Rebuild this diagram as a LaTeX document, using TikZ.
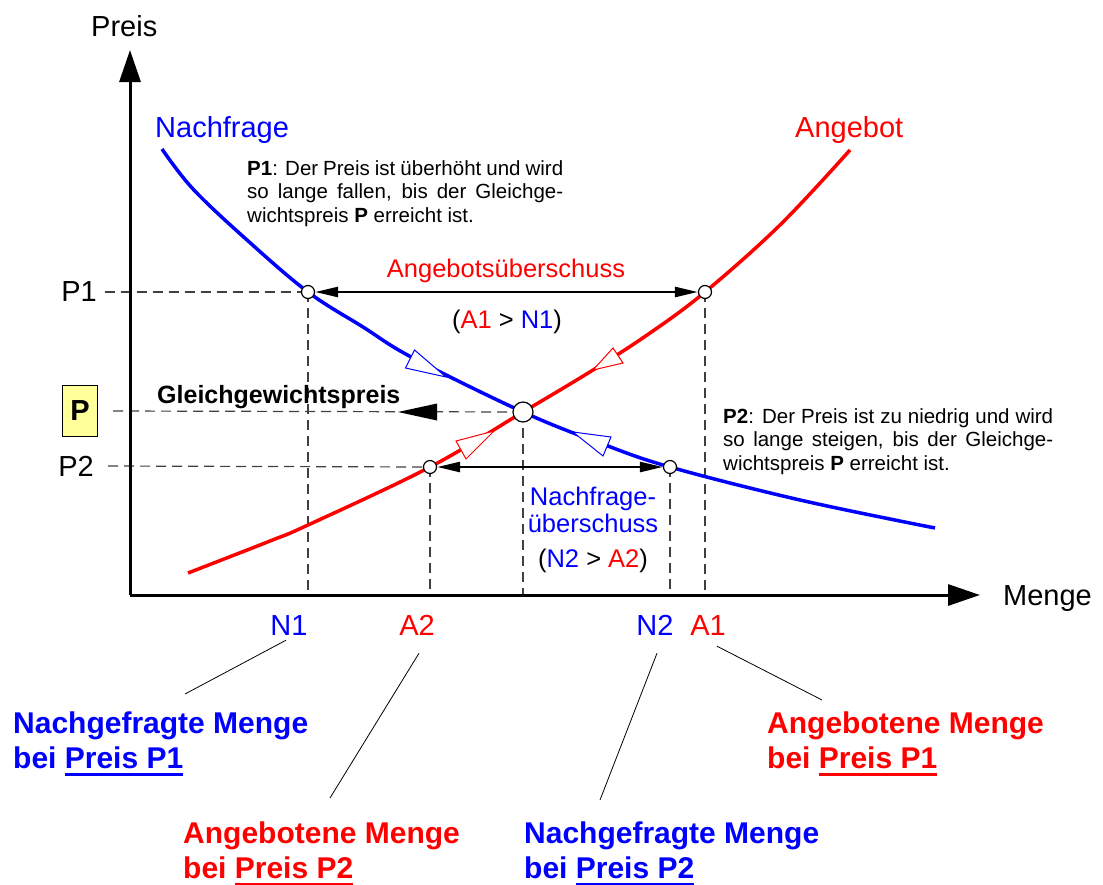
\documentclass[tikz,border=0pt]{standalone}
\usepackage{fontspec}
\setmainfont{Liberation Sans}
\usetikzlibrary{arrows.meta,calc}
\definecolor{cblue}{RGB}{0,0,255}
\definecolor{cred}{RGB}{255,0,0}
\definecolor{pyellow}{RGB}{255,255,153}
\newsavebox\myulbox
\newcommand{\myul}[1]{\sbox\myulbox{#1}\rlap{\rule[-8pt]{\wd\myulbox}{3.5pt}}\usebox\myulbox}
\begin{document}
\begin{tikzpicture}[x=1pt,y=-1pt,
 big/.style={font=\fontsize{29}{34}\selectfont, inner sep=0pt},
 mid/.style={font=\fontsize{25.5}{27}\selectfont, inner sep=0pt},
 small/.style={font=\fontsize{20.5}{23.5}\selectfont, inner sep=0pt, align=left},
 bottomlbl/.style={font=\bfseries\fontsize{30}{35}\selectfont, inner sep=0pt, align=left},
 dashline/.style={black!75, line width=1.2pt, dash pattern=on 10pt off 6pt},
 axisline/.style={line width=3pt, -{Triangle[length=32pt,width=21pt]}},
 curve/.style={line width=3.5pt},
 dot/.style={circle, draw=black, fill=white, line width=1.2pt, minimum size=13pt, inner sep=0pt},
 bigdot/.style={dot, minimum size=20pt},
 dbl/.style={line width=2.5pt, {Triangle[length=23pt,width=10pt]}-{Triangle[length=23pt,width=10pt]}},
 leader/.style={line width=0.8pt},
 tri/.style={line width=1pt, fill=white},
]
\useasboundingbox (0,0) rectangle (1103,884);

% axis coordinates
\coordinate (O) at (130,595);
\coordinate (ytop) at (130,50);
\coordinate (xend) at (980,595);
\coordinate (xN1) at (308,595);
\coordinate (xA2) at (430,595);
\coordinate (xP) at (523,595);
\coordinate (xN2) at (670,595);
\coordinate (xA1) at (705,595);

% labels left
\node[big, anchor=east] (P1lab) at (97,292) {P1};
\node[big, anchor=east] (P2lab) at (94,466) {P2};
\node[draw=black, fill=pyellow, line width=1pt, minimum width=35pt, minimum height=51pt, inner sep=0pt, font=\bfseries\fontsize{29}{32}\selectfont] (Pbox) at (80,411) {P};

% dots (positions)
\coordinate (cN1) at (308,292);
\coordinate (cA1) at (705,292);
\coordinate (cEq) at (523,412);
\coordinate (cA2) at (430,467);
\coordinate (cN2) at (670,467);

% dashed lines
\draw[dashline] ([xshift=8pt]P1lab.east) -- (cN1);
\draw[dashline] ([xshift=15pt]Pbox.east) -- (cEq);
\draw[dashline] ([xshift=14pt]P2lab.east) -- (cA2);
\draw[dashline] (cN1) -- (xN1);
\draw[dashline] (cA1) -- (xA1);
\draw[dashline] (cEq) -- (xP);
\draw[dashline] (cA2) -- (xA2);
\draw[dashline] (cN2) -- (xN2);

% equilibrium price arrow
\fill (437,403.5) -- (398,412) -- (437,420.5) -- cycle;

% axes
\draw[axisline] (O) -- (ytop);
\draw[axisline] (O) -- (xend);

% curves
\draw[cblue,curve] plot[smooth, tension=0.6] coordinates {(162,149) (193,189) (247,240) (308,292) (363,327) (413,358) (523,412) (600,443) (670,467) (800,500) (935,528)};
\draw[cred,curve] plot[smooth, tension=0.6] coordinates {(188,573) (270,541) (308,525) (430,467) (523,412) (593,370) (650,333) (705,292) (780,225) (850,150)};

% direction triangles
\draw[cblue,tri] (446,377) -- (405.5,368) -- (414.5,350) -- cycle;
\draw[cblue,tri] (573,432) -- (603,456) -- (611,437) -- cycle;
\draw[cred,tri] (494,431) -- (466,459) -- (456,441) -- cycle;
\draw[cred,tri] (593,370) -- (613,348) -- (623,363) -- cycle;

% dots
\node[dot] (dN1) at (cN1) {};
\node[dot] (dA1) at (cA1) {};
\node[bigdot] (dEq) at (cEq) {};
\node[dot] (dA2) at (cA2) {};
\node[dot] (dN2) at (cN2) {};

% double arrows
\draw[dbl] (dN1) -- (dA1);
\draw[dbl] (dA2) -- (dN2);

% axis labels
\node[big, anchor=base west] (preis) at (91,36) {Preis};
\node[big, anchor=base west] (menge) at (1003,605) {Menge};
\node[big, anchor=base west, text=cblue] (nachfrage) at (155,137) {Nachfrage};
\node[big, anchor=base west, text=cred] (angebot) at (795,137) {Angebot};

% explanations
\node[small, anchor=north west] (expl1) at (247,160) {\rule{0pt}{15pt}\makebox[316pt][s]{\textbf{P1}: Der Preis ist überhöht und wird}\\ \makebox[316pt][s]{so lange fallen, bis der Gleichge-}\\ wichtspreis \textbf{P} erreicht ist.};
\node[small, anchor=north west] (expl2) at (723,408) {\rule{0pt}{15pt}\makebox[330pt][s]{\textbf{P2}: Der Preis ist zu niedrig und wird}\\ \makebox[330pt][s]{so lange steigen, bis der Gleichge-}\\ wichtspreis \textbf{P} erreicht ist.};

\node[mid, anchor=base, text=cred] (aus) at (506,277) {Angebotsüberschuss};
\node[mid, anchor=base] (aus2) at (507,328) {(\textcolor{cred}{A1} > \textcolor{cblue}{N1})};
\node[mid, anchor=base west, font=\bfseries\fontsize{25}{27}\selectfont] (ggp) at (157,403) {Gleichgewichtspreis};
\node[mid, anchor=north, align=center] (nus) at (593,487) {\rule{0pt}{18pt}\textcolor{cblue}{Nachfrage-}\\ \textcolor{cblue}{überschuss}\\[8pt] (\textcolor{cblue}{N2} > \textcolor{cred}{A2})};

% quantity labels
\node[big, anchor=base, text=cblue] (N1lab) at (289,635) {N1};
\node[big, anchor=base, text=cred] (A2lab) at (417,635) {A2};
\node[big, anchor=base, text=cblue] (N2lab) at (655,635) {N2};
\node[big, anchor=base, text=cred] (A1lab) at (708,635) {A1};

% bottom texts
\node[bottomlbl, anchor=north west, text=cblue] (tN1) at (13,711) {\rule{0pt}{22pt}Nachgefragte Menge\\ bei \myul{Preis P1}};
\node[bottomlbl, anchor=north west, text=cred] (tA1) at (767,711) {\rule{0pt}{22pt}Angebotene Menge\\ bei \myul{Preis P1}};
\node[bottomlbl, anchor=north west, text=cred] (tA2) at (183,821) {\rule{0pt}{22pt}Angebotene Menge\\ bei \myul{Preis P2}};
\node[bottomlbl, anchor=north west, text=cblue] (tN2) at (524,821) {\rule{0pt}{22pt}Nachgefragte Menge\\ bei \myul{Preis P2}};

% leader lines
\draw[leader] ($(N1lab.south)+(-3,5)$) -- ($(tN1.north west)+(172,-17)$);
\draw[leader] ($(A2lab.south)+(2,18)$) -- ($(tA2.north west)+(147,-23)$);
\draw[leader] ($(N2lab.south)+(2,18)$) -- ($(tN2.north west)+(76,-21)$);
\draw[leader] ($(A1lab.south)+(9,11)$) -- ($(tA1.north west)+(55,-11)$);
\end{tikzpicture}
\end{document}
